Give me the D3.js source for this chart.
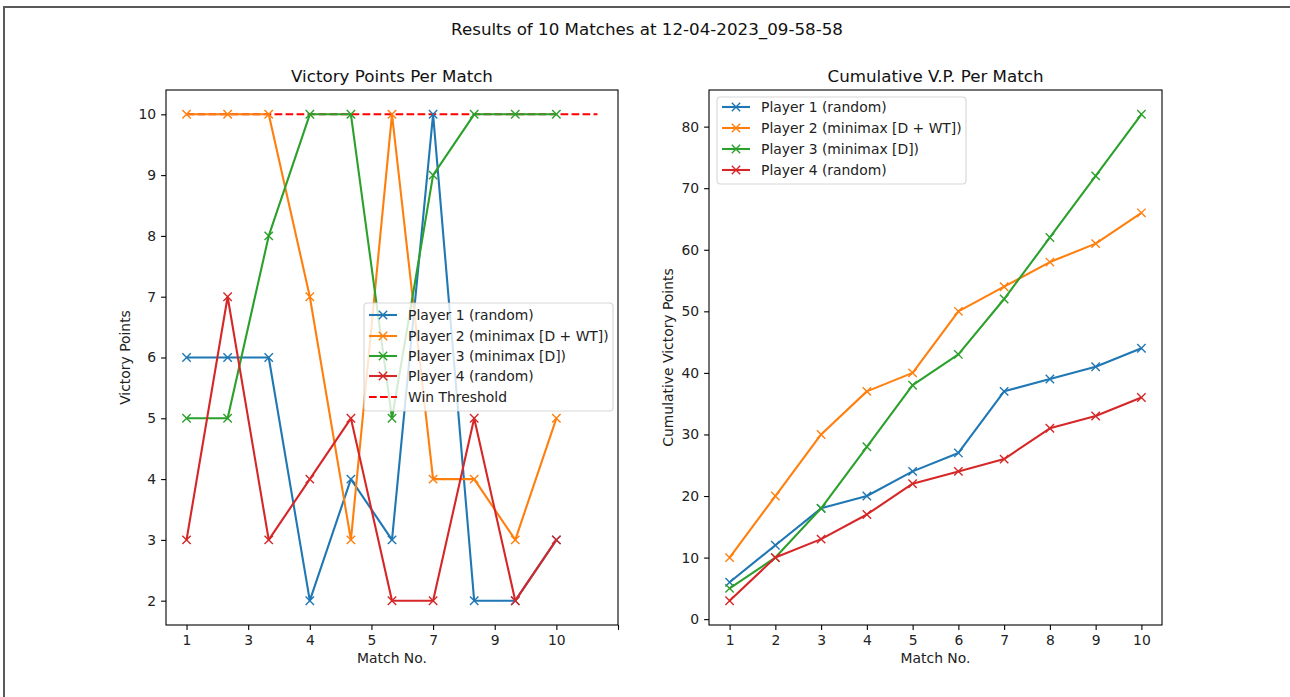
<!DOCTYPE html>
<html>
<head>
<meta charset="utf-8">
<script src="https://cdn.jsdelivr.net/npm/d3@7"></script>
<style>
  html, body { margin: 0; padding: 0; background: #fff; }
  svg { display: block; font-family: "DejaVu Sans", sans-serif; }
</style>
</head>
<body>
<svg id="chart" width="1290" height="697"></svg>
<script>
// ---- data ----
const matches = [1, 2, 3, 4, 5, 6, 7, 8, 9, 10];
const players = ["Player 1 (random)", "Player 2 (minimax [D + WT])", "Player 3 (minimax [D])", "Player 4 (random)"];
const colors = ["#1f77b4", "#ff7f0e", "#2ca02c", "#d62728"];
const player1VP = [6, 6, 6, 2, 4, 3, 10, 2, 2, 3];
const player2VP = [10, 10, 10, 7, 3, 10, 4, 4, 3, 5];
const player3VP = [5, 5, 8, 10, 10, 5, 9, 10, 10, 10];
const player4VP = [3, 7, 3, 4, 5, 2, 2, 5, 2, 3];
const winThreshold = 10;
const thresholdSteps = [0, 1, 2, 3, 4, 5, 6, 7, 8, 9, 10];
// per-match panel tick positions (index units) and their labels
const perMatchTickPos = [0, 1.5, 3, 4.5, 6, 7.5, 9, 10.5];
const perMatchTickLabels = ["1", "3", "4", "5", "7", "9", "10", ""];
const perMatchYTicks = [2, 3, 4, 5, 6, 7, 8, 9, 10];
const cumulativeYTicks = [0, 10, 20, 30, 40, 50, 60, 70, 80];

const vpSeries = [player1VP, player2VP, player3VP, player4VP];
// running totals per player
const cumSeries = vpSeries.map(s => Array.from(d3.cumsum(s)));

// ---- layout ----
const svg = d3.select("#chart");
const W = 1290, H = 697;
const plotTop = 90, plotBottom = 625;
const leftPanel = { x0: 166, x1: 618 };
const rightPanel = { x0: 709, x1: 1162 };
const FS = 13.9, TFS = 16.7;

svg.append("rect").attr("width", W).attr("height", H).attr("fill", "#fff");
// outer frame
svg.append("path").attr("d", `M4,${H} L4,7 L${W},7`)
  .attr("fill", "none").attr("stroke", "#5a5a5a").attr("stroke-width", 2);

function padded(lo, hi) {
  const m = (hi - lo) * 0.05;
  return [lo - m, hi + m];
}

function xMarker(g, x, y, color) {
  const r = 4.2;
  g.append("path")
    .attr("d", `M${x - r},${y - r}L${x + r},${y + r}M${x - r},${y + r}L${x + r},${y - r}`)
    .attr("stroke", color).attr("stroke-width", 1.4).attr("fill", "none");
}

function drawAxes(g, panel, xs, ys, xTicks, xFmt, yTicks, title, xLabel, yLabel, yLabelX) {
  const xAxis = d3.axisBottom(xs).tickValues(xTicks).tickFormat(xFmt).tickSize(4.9).tickPadding(4.9);
  const yAxis = d3.axisLeft(ys).tickValues(yTicks).tickFormat(d => String(d)).tickSize(4.9).tickPadding(4.9);
  const gx = g.append("g").attr("transform", `translate(0,${plotBottom})`).call(xAxis);
  const gy = g.append("g").attr("transform", `translate(${panel.x0},0)`).call(yAxis);
  [gx, gy].forEach(a => {
    a.select(".domain").remove();
    a.selectAll("line").attr("stroke", "#000").attr("stroke-width", 1.1);
    a.selectAll("text").attr("font-size", FS).attr("fill", "#222").attr("font-family", "DejaVu Sans");
  });
  g.append("rect")
    .attr("x", panel.x0).attr("y", plotTop)
    .attr("width", panel.x1 - panel.x0).attr("height", plotBottom - plotTop)
    .attr("fill", "none").attr("stroke", "#000").attr("stroke-width", 1.1);
  const cx = (panel.x0 + panel.x1) / 2;
  g.append("text").attr("x", cx).attr("y", 82).attr("text-anchor", "middle")
    .attr("font-size", TFS).attr("fill", "#111").text(title);
  g.append("text").attr("x", cx).attr("y", 663).attr("text-anchor", "middle")
    .attr("font-size", FS).attr("fill", "#222").text(xLabel);
  g.append("text")
    .attr("transform", `translate(${yLabelX},${(plotTop + plotBottom) / 2}) rotate(-90)`)
    .attr("text-anchor", "middle").attr("font-size", FS).attr("fill", "#222").text(yLabel);
}

function drawLegend(g, x, y, w, h, rowYs, entries) {
  g.append("rect").attr("x", x).attr("y", y).attr("width", w).attr("height", h)
    .attr("rx", 3.5).attr("fill", "#fff").attr("fill-opacity", 0.8)
    .attr("stroke", "#ccc").attr("stroke-opacity", 0.8).attr("stroke-width", 1.1);
  entries.forEach((e, i) => {
    const ry = rowYs[i];
    const hx0 = x + 5, hx1 = x + 33;
    const ln = g.append("line").attr("x1", hx0).attr("x2", hx1).attr("y1", ry).attr("y2", ry)
      .attr("stroke", e.color).attr("stroke-width", 2.1);
    if (e.dashed) ln.attr("stroke-dasharray", "7.7,3.3");
    if (e.marker) xMarker(g, (hx0 + hx1) / 2, ry, e.color);
    g.append("text").attr("x", x + 44).attr("y", ry + 5).attr("font-size", FS)
      .attr("fill", "#222").text(e.label);
  });
}

// ---- figure title ----
svg.append("text").attr("x", 647).attr("y", 35).attr("text-anchor", "middle")
  .attr("font-size", TFS).attr("fill", "#111")
  .text("Results of 10 Matches at 12-04-2023_09-58-58");

// ---- left panel: victory points per match ----
{
  const g = svg.append("g");
  const allVals = vpSeries.flat().concat([winThreshold]);
  const xs = d3.scaleLinear().domain(padded(d3.min(thresholdSteps), d3.max(thresholdSteps)))
    .range([leftPanel.x0, leftPanel.x1]);
  const ys = d3.scaleLinear().domain(padded(d3.min(allVals), d3.max(allVals)))
    .range([plotBottom, plotTop]);

  // threshold line
  g.append("path")
    .datum(thresholdSteps)
    .attr("d", d3.line().x(d => xs(d)).y(() => ys(winThreshold)))
    .attr("fill", "none").attr("stroke", "#ff0000").attr("stroke-width", 2.1)
    .attr("stroke-dasharray", "7.7,3.3");

  const line = d3.line().x((d, i) => xs(i)).y(d => ys(d));
  vpSeries.forEach((s, k) => {
    g.append("path").datum(s).attr("d", line)
      .attr("fill", "none").attr("stroke", colors[k]).attr("stroke-width", 2.1)
      .attr("stroke-linejoin", "round");
    s.forEach((v, i) => xMarker(g, xs(i), ys(v), colors[k]));
  });

  drawAxes(g, leftPanel, xs, ys, perMatchTickPos, (d, i) => perMatchTickLabels[i],
    perMatchYTicks, "Victory Points Per Match", "Match No.", "Victory Points", 130);

  drawLegend(g, 364, 303, 249, 108, [315, 336, 356, 376, 397],
    players.map((p, k) => ({ label: p, color: colors[k], marker: true }))
      .concat([{ label: "Win Threshold", color: "#ff0000", dashed: true }]));
}

// ---- right panel: cumulative victory points ----
{
  const g = svg.append("g");
  const allVals = cumSeries.flat();
  const xs = d3.scaleLinear().domain(padded(d3.min(matches), d3.max(matches)))
    .range([rightPanel.x0, rightPanel.x1]);
  const ys = d3.scaleLinear().domain(padded(d3.min(allVals), d3.max(allVals)))
    .range([plotBottom, plotTop]);

  const line = d3.line().x((d, i) => xs(matches[i])).y(d => ys(d));
  cumSeries.forEach((s, k) => {
    g.append("path").datum(s).attr("d", line)
      .attr("fill", "none").attr("stroke", colors[k]).attr("stroke-width", 2.1)
      .attr("stroke-linejoin", "round");
    s.forEach((v, i) => xMarker(g, xs(matches[i]), ys(v), colors[k]));
  });

  drawAxes(g, rightPanel, xs, ys, matches, d => String(d),
    cumulativeYTicks, "Cumulative V.P. Per Match", "Match No.", "Cumulative Victory Points", 673);

  drawLegend(g, 717, 97, 249, 87, [107, 128, 149, 170],
    players.map((p, k) => ({ label: p, color: colors[k], marker: true })));
}
</script>
</body>
</html>
